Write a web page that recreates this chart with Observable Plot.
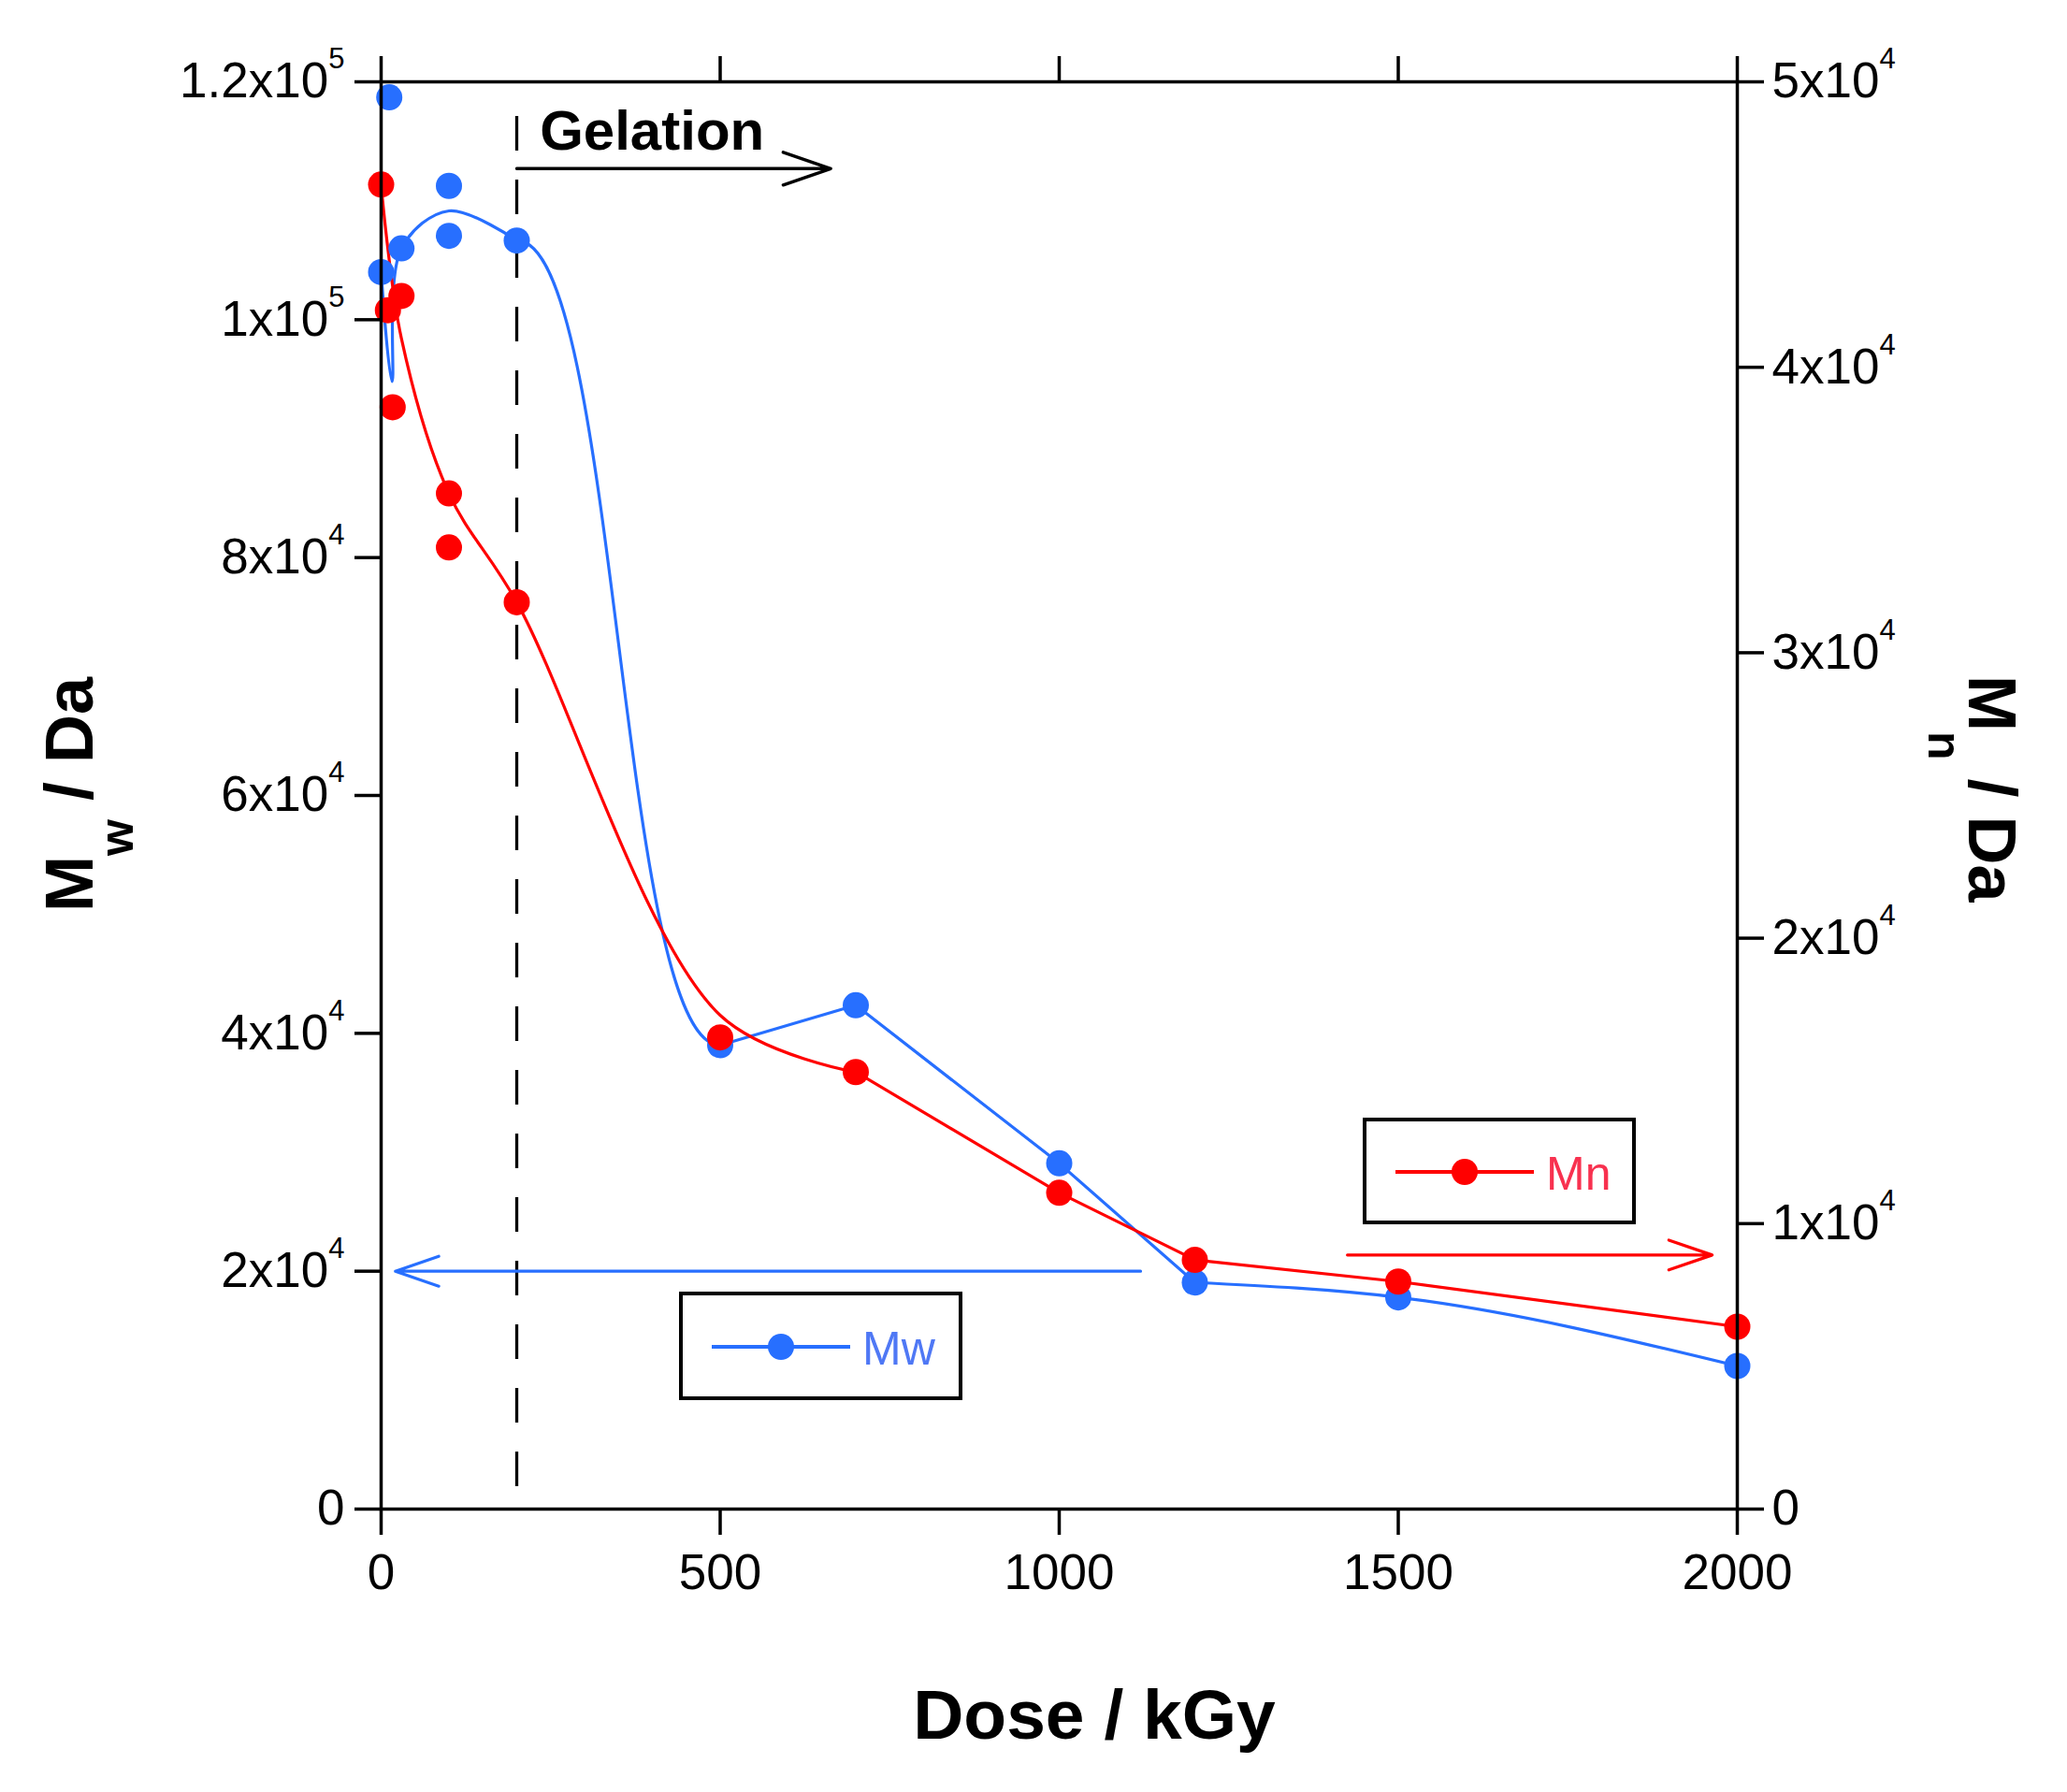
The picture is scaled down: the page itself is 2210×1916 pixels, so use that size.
<!DOCTYPE html>
<html>
<head>
<meta charset="utf-8">
<script src="https://cdn.jsdelivr.net/npm/d3@7"></script>
<script src="https://cdn.jsdelivr.net/npm/@observablehq/plot@0.6"></script>
<style>
  html, body { margin: 0; padding: 0; background: #fff; overflow: hidden; }
  text { white-space: pre; }
</style>
</head>
<body>
<div id="chart-container"></div>
<script>
// axis ticks
const doseTicks = [0, 500, 1000, 1500, 2000];
const mwTicks = [0, 20000, 40000, 60000, 80000, 100000, 120000];
const mwTickLabels = ["0", "2x10^4", "4x10^4", "6x10^4", "8x10^4", "1x10^5", "1.2x10^5"];
const mnTicks = [0, 10000, 20000, 30000, 40000, 50000];
const mnTickLabels = ["0", "1x10^4", "2x10^4", "3x10^4", "4x10^4", "5x10^4"];

// measured points (dose in kGy)
const mwDose  = [0, 12, 30, 100, 100, 200, 500, 700, 1000, 1200, 1500, 2000];
const mwValue = [104000, 118700, 106000, 111250, 107050, 106660, 39000, 42360, 29070, 19050, 17800, 12030];
const mnDose  = [0, 10, 17, 30, 100, 100, 200, 500, 700, 1000, 1200, 1500, 2000];
const mnValue = [46400, 42000, 38600, 42500, 35580, 33690, 31770, 16525, 15310, 11080, 8730, 7970, 6390];

// the curves as drawn in the figure
const mwCurveDose  = [0, 16, 30, 100, 200, 500, 700, 1000, 1200, 1500, 2000];
const mwCurveValue = [104000, 94800, 106000, 109150, 106660, 39000, 42360, 29070, 19050, 17800, 12030];
const mnCurveDose  = [0, 30, 100, 200, 500, 700, 1000, 1200, 1500, 2000];
const mnCurveValue = [46400, 41000, 35580, 31770, 17300, 15310, 11080, 8730, 7970, 6390];

// gelation marker and the axis arrows
const gelationDose = 200;
const gelationSpan = [1890, 117170];      // Mw units
const gelationText = ["Gelation"];
const gelationTextAt = [234, 114260];     // dose, Mw
const gelationArrow = [200, 663, 112700]; // from, to, Mw level
const mwArrow = [1120, 21, 20000];        // from, to, Mw level
const mnArrow = [1425, 1963, 8900];       // from, to, Mn level

const BLUE = "#276fff";
const RED = "#ff0000";
const MN_TO_MW = 120000 / 50000; // right axis spans 0..5x10^4 over the same height

const mwPoints = mwDose.map((d, i) => ({dose: d, value: mwValue[i]}));
const mnPoints = mnDose.map((d, i) => ({dose: d, value: mnValue[i] * MN_TO_MW}));
const mwCurve = mwCurveDose.map((d, i) => ({dose: d, value: mwCurveValue[i]}));
const mnCurve = mnCurveDose.map((d, i) => ({dose: d, value: mnCurveValue[i] * MN_TO_MW}));

// the figure's curve is smooth in places and nearly straight in others
const part = (rows, lo, hi) => rows.filter(d => d.dose >= lo && d.dose <= hi);

const arrowRow = a => [{x1: a[0], x2: a[1], y: a[2]}];
const arrowOpts = {x1: "x1", x2: "x2", y1: "y", y2: "y", strokeWidth: 3.2, headLength: 23, headAngle: 38};
const lineOpts = {x: "dose", y: "value", strokeWidth: 3.2};

const axisStyle = {tickSize: 28, strokeWidth: 3.5, fontSize: 53, label: null};

const plot = Plot.plot({
  width: 2210,
  height: 1916,
  marginLeft: 407,
  marginRight: 353,
  marginTop: 87,
  marginBottom: 303,
  style: {fontFamily: "'Liberation Sans', Arial, sans-serif", background: "white", color: "black"},
  x: {domain: [0, 2000]},
  y: {domain: [0, 120000]},
  marks: [
    Plot.ruleX([{x: gelationDose, y1: gelationSpan[0], y2: gelationSpan[1]}],
      {x: "x", y1: "y1", y2: "y2", stroke: "black", strokeWidth: 3.3, strokeDasharray: "37,31"}),
    Plot.line(part(mwCurve, 0, 200), {...lineOpts, curve: "catmull-rom", stroke: BLUE}),
    Plot.line(part(mwCurve, 200, 500), {...lineOpts, curve: "bump-x", stroke: BLUE}),
    Plot.line(part(mwCurve, 500, 1200), {...lineOpts, curve: "linear", stroke: BLUE}),
    Plot.line(part(mwCurve, 1200, 2000), {...lineOpts, curve: "monotone-x", stroke: BLUE}),
    Plot.line(part(mnCurve, 0, 700), {...lineOpts, curve: "catmull-rom", stroke: RED}),
    Plot.line(part(mnCurve, 700, 2000), {...lineOpts, curve: "linear", stroke: RED}),
    Plot.dot(mwPoints, {x: "dose", y: "value", r: 14, fill: BLUE}),
    Plot.dot(mnPoints, {x: "dose", y: "value", r: 14, fill: RED}),
    Plot.arrow(arrowRow(gelationArrow), {...arrowOpts, stroke: "black", strokeWidth: 3.5}),
    Plot.arrow(arrowRow(mwArrow), {...arrowOpts, stroke: BLUE}),
    Plot.arrow(arrowRow([mnArrow[0], mnArrow[1], mnArrow[2] * MN_TO_MW]), {...arrowOpts, stroke: RED}),
    Plot.text(gelationText, {x: () => gelationTextAt[0], y: () => gelationTextAt[1], text: d => d,
      textAnchor: "start", lineAnchor: "bottom", fontSize: 60, fontWeight: "bold", fill: "black"}),
    Plot.frame({stroke: "black", strokeWidth: 3.5}),
    Plot.axisX({...axisStyle, anchor: "bottom", ticks: doseTicks, tickPadding: 20, tickFormat: d => String(d)}),
    Plot.axisX({...axisStyle, anchor: "top", ticks: doseTicks, tickFormat: () => ""}),
    Plot.axisY({...axisStyle, anchor: "left", ticks: mwTicks, tickPadding: 11,
      tickFormat: d => mwTickLabels[mwTicks.indexOf(d)]}),
    Plot.axisY({...axisStyle, anchor: "right", ticks: mnTicks.map(v => v * MN_TO_MW), tickPadding: 9,
      tickFormat: d => mnTickLabels[mnTicks.indexOf(Math.round(d / MN_TO_MW))]})
  ]
});

const svg = d3.select(plot);

// turn "2x10^4" into a real superscript
svg.selectAll('g[aria-label="y-axis tick label"] text').each(function () {
  const s = this.textContent;
  if (!s.includes("^")) return;
  const [base, exp] = s.split("^");
  const t = d3.select(this);
  t.text(base);
  t.append("tspan").attr("font-size", 31).attr("dy", -31).text(exp);
});

// axis titles
svg.append("text")
  .attr("x", 1170).attr("y", 1859)
  .attr("text-anchor", "middle")
  .attr("font-size", 75).attr("font-weight", "bold")
  .text("Dose / kGy");

function sideTitle(transform, sub) {
  const t = svg.append("text")
    .attr("transform", transform)
    .attr("text-anchor", "start")
    .attr("font-size", 72).attr("font-weight", "bold");
  t.append("tspan").text("M");
  t.append("tspan").attr("font-size", 50).attr("dy", 43).text(sub);
  t.append("tspan").attr("dy", -43).text(" / Da");
}
sideTitle("translate(99,975) rotate(-90)", "w");
sideTitle("translate(2105,722) rotate(90)", "n");

// legend boxes
function legendBox(x, y, w, h, color, textColor, label) {
  const g = svg.append("g");
  g.append("rect").attr("x", x).attr("y", y).attr("width", w).attr("height", h)
    .attr("fill", "white").attr("stroke", "black").attr("stroke-width", 4);
  const cy = y + h / 2 + 1;
  g.append("line").attr("x1", x + 33).attr("x2", x + 181).attr("y1", cy).attr("y2", cy)
    .attr("stroke", color).attr("stroke-width", 4);
  g.append("circle").attr("cx", x + 107).attr("cy", cy).attr("r", 14).attr("fill", color);
  g.append("text").attr("x", x + 194).attr("y", cy + 19)
    .attr("text-anchor", "start")
    .attr("font-size", 50).attr("fill", textColor).text(label);
}
legendBox(1459, 1197, 288, 110, RED, "#f8314f", "Mn");
legendBox(728, 1383, 299, 112, BLUE, "#4f78f5", "Mw");

document.getElementById("chart-container").appendChild(plot);
</script>
</body>
</html>
